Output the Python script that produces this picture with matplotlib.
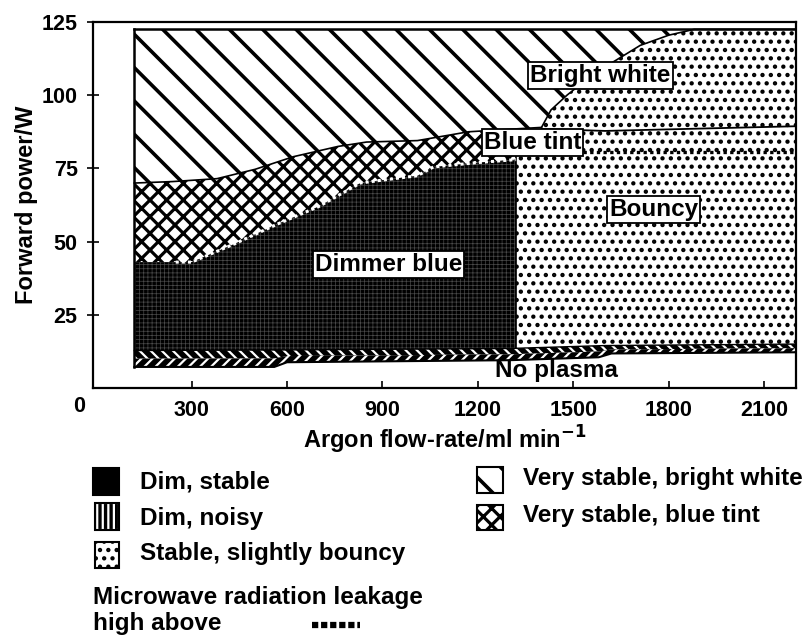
import numpy as np
import matplotlib.pyplot as plt
from matplotlib.patches import Rectangle
from matplotlib.lines import Line2D

plt.rcParams['font.family'] = ['Liberation Sans', 'DejaVu Sans']
plt.rcParams['font.weight'] = 'bold'
plt.rcParams['axes.labelweight'] = 'bold'

# regime boundaries: argon flow (ml/min) vs forward power (W)
flow_start = 120
flow_end = 2200
power_top = 122.5
dim_edge = 1320          # flow where the dim region stops

noplasma_x = [120, 560, 600, 1300, 1580, 1620, 2200]
noplasma_y = [7.2, 7.2, 8.8, 9.5, 10.5, 11.8, 12.2]

noisy_x = [120, 600, 1300, 1600, 2200]
noisy_y = [12.8, 13.0, 13.5, 14.5, 15.0]

dim_x = [120, 300, 430, 570, 700, 830, 900, 1010, 1060, 1200, 1320]
dim_y = [43, 43, 49, 56, 62, 70, 71, 72.5, 75.5, 77, 78]

tint_x = [120, 240, 380, 500, 620, 760, 850, 1010, 1170, 1320, 1400]
tint_y = [70, 70.5, 71.5, 74.7, 79, 82.5, 84, 84.5, 87.5, 88.5, 89]

white_x = [1400, 1430, 1480, 1560, 1650, 1710, 1800, 1880, 2200]
white_y = [89, 95, 100, 107, 113, 117, 120.5, 122.5, 122.5]

bouncy_x = [1400, 1600, 1900, 2200]
bouncy_y = [88.5, 87.8, 88.6, 89.4]

leak_start = 250
leak_right_x = [1530, 2200]
leak_right_y = [80.5, 80.5]

region_labels = ['Dimmer blue', 'Bright white', 'Blue tint', 'Bouncy']
label_x = [918, 1585, 1371, 1752]
label_y = [42.2, 106.8, 83.7, 61]

x_ticks = [300, 600, 900, 1200, 1500, 1800, 2100]
y_ticks = [25, 50, 75, 100, 125]

legend_left = ['Dim, stable', 'Dim, noisy', 'Stable, slightly bouncy']
legend_right = ['Very stable, bright white', 'Very stable, blue tint']

W, H = 810, 637
fig = plt.figure(figsize=(W / 100, H / 100), dpi=100)
ax = fig.add_axes([93 / W, 1 - 388 / H, 703 / W, 366 / H])


def region(x0, x1, lower, upper, hatch_lw=1.0, **kw):
    # shade between two boundary polylines over [x0, x1]
    xs = sorted({x for x in list(lower[0]) + list(upper[0]) + [x0, x1] if x0 <= x <= x1})
    lo = np.interp(xs, lower[0], lower[1])
    hi = np.interp(xs, upper[0], upper[1])
    with plt.rc_context({'hatch.linewidth': hatch_lw}):
        coll = ax.fill_between(xs, lo, hi, linewidth=0, zorder=1, **kw)
    if hasattr(coll, 'set_hatch_linewidth'):
        coll.set_hatch_linewidth(hatch_lw)
    return coll


noplasma = (noplasma_x, noplasma_y)
noisy = (noisy_x, noisy_y)
dim = (dim_x, dim_y)
tint = (tint_x, tint_y)
bright_low = (tint_x + white_x[1:], tint_y + white_y[1:])
top = ([flow_start, flow_end], [power_top, power_top])

# middle of the noisy band, so the two halves make chevrons
mid_x = sorted(set(noplasma_x + noisy_x))
mid_y = (np.interp(mid_x, noplasma_x, noplasma_y) + np.interp(mid_x, noisy_x, noisy_y)) / 2
mid = (mid_x, list(mid_y))

region(dim_edge, flow_end, noisy, bright_low, hatch_lw=1.9, facecolor='white', edgecolor='black', hatch='..')
region(flow_start, dim_edge, dim, tint, hatch_lw=2.3, facecolor='white', edgecolor='black', hatch='xx')
region(flow_start, dim_edge, noisy, dim, hatch_lw=0.5, facecolor='black', edgecolor='#4a4a4a', hatch='++++')
region(flow_start, flow_end, mid, noisy, hatch_lw=1.6, facecolor='black', edgecolor='white', hatch='\\\\\\')
region(flow_start, flow_end, noplasma, mid, hatch_lw=1.6, facecolor='black', edgecolor='white', hatch='///')
region(flow_start, flow_end, bright_low, top, hatch_lw=2.6, facecolor='white', edgecolor='black', hatch='\\')

# outlines
ax.plot(noplasma_x, noplasma_y, color='black', lw=1.5, zorder=2)
ax.plot(noisy_x, noisy_y, color='black', lw=1.0, zorder=2)
ax.plot(tint_x, tint_y, color='black', lw=1.2, zorder=2)
ax.plot(white_x, white_y, color='black', lw=1.2, zorder=2)
ax.plot(bouncy_x, bouncy_y, color='black', lw=1.3, zorder=2)
ax.plot(*top, color='black', lw=1.8, zorder=2)
ax.plot([flow_start, flow_start], [noplasma_y[0], power_top], color='black', lw=1.8, zorder=2)
ax.plot([dim_edge, dim_edge],
        [np.interp(dim_edge, noisy_x, noisy_y), np.interp(dim_edge, tint_x, tint_y)],
        color='black', lw=1.2, zorder=2)

# microwave leakage line
lx = [leak_start] + [x for x in dim_x if x > leak_start]
ly = np.interp(lx, dim_x, dim_y)
ax.plot(lx, ly, color='white', lw=2.2, ls=(0, (1.0, 1.0)), zorder=2.5)
ax.plot(leak_right_x, leak_right_y, color='black', lw=2.4, ls=(0, (1.0, 1.0)), zorder=2.5)

for txt, x, y in zip(region_labels, label_x, label_y):
    ax.text(x, y, txt, ha='center', va='center', fontsize=17.5, zorder=4,
            bbox=dict(boxstyle='square,pad=0.08', fc='white', ec='black', lw=1.3))
ax.text(1446, 6.0, 'No plasma', ha='center', va='center', fontsize=17.5, zorder=4)

ax.set_xlim(-10, 2200)
ax.set_ylim(0, 125)
ax.set_xticks(x_ticks)
ax.set_yticks(y_ticks)
ax.tick_params(axis='x', direction='in', length=5, width=1.2, pad=9, labelsize=15.5)
ax.tick_params(axis='y', direction='inout', length=8, width=1.2, pad=7, labelsize=15.5)
for s in ax.spines.values():
    s.set_linewidth(1.6)
ax.text(-0.02, -0.05, '0', transform=ax.transAxes, ha='center', va='center', fontsize=15.5)
ax.set_xlabel('Argon flow-rate/ml min$^{\\mathbf{-1}}$', fontsize=17, labelpad=2)
ax.set_ylabel('Forward power/W', fontsize=17, labelpad=3)


# legend drawn under the axes in pixel positions
def fx(px):
    return px / W


def fy(py):
    return 1 - py / H


def key(x, y, w, h, hatch_lw=1.0, **kw):
    with plt.rc_context({'hatch.linewidth': hatch_lw}):
        r = Rectangle((fx(x), fy(y + h)), w / W, h / H, transform=fig.transFigure, lw=1.5, **kw)
    if hasattr(r, 'set_hatch_linewidth'):
        r.set_hatch_linewidth(hatch_lw)
    fig.add_artist(r)


key(93, 468, 26, 27, facecolor='black', edgecolor='black')
key(95, 503, 24, 27, hatch_lw=1.6, facecolor='black', edgecolor='white', hatch='|||')
fig.add_artist(Rectangle((fx(95), fy(530)), 24 / W, 27 / H, transform=fig.transFigure,
                         fill=False, edgecolor='black', lw=1.5))
key(95, 542, 24, 26, hatch_lw=1.9, facecolor='white', edgecolor='black', hatch='..')
key(477, 467, 26, 26, hatch_lw=2.6, facecolor='white', edgecolor='black', hatch='\\')
key(477, 505, 26, 25, hatch_lw=2.3, facecolor='white', edgecolor='black', hatch='xx')

left_base = [488, 525, 560]
for txt, yb in zip(legend_left, left_base):
    fig.text(fx(140), fy(yb), txt, va='baseline', fontsize=17.5)
right_base = [485, 522]
for txt, yb in zip(legend_right, right_base):
    fig.text(fx(523), fy(yb), txt, va='baseline', fontsize=17.5)
fig.text(fx(93), fy(604), 'Microwave radiation leakage', va='baseline', fontsize=17.5)
fig.text(fx(93), fy(630), 'high above', va='baseline', fontsize=17.5)
fig.add_artist(Line2D([fx(312), fx(360)], [fy(625), fy(625)], color='black', lw=4.5,
                      ls=(0, (1.0, 0.45)), transform=fig.transFigure))

fig.savefig('out.png', dpi=100)
